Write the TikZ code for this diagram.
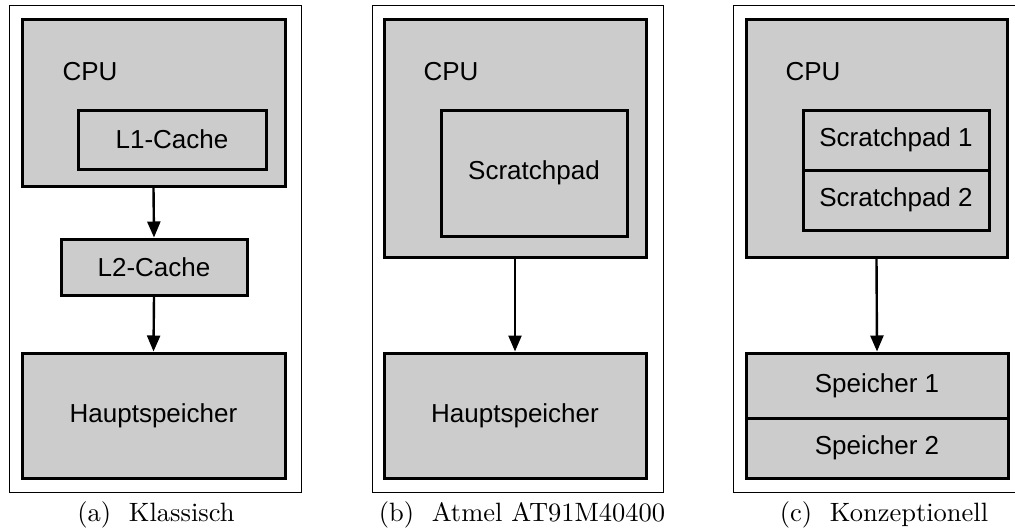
\documentclass[tikz,border=0pt]{standalone}
\usepackage{fontspec}
\setsansfont{Liberation Sans}
\usetikzlibrary{arrows.meta}
\definecolor{boxgray}{RGB}{204,204,204}
\newcommand{\subcaptext}[1]{\scalebox{2.65}{#1}}
\begin{document}
\begin{tikzpicture}[x=1pt,y=-1pt,
  frame/.style={draw, line width=1pt, inner sep=0pt, fill=white},
  box/.style={draw, fill=boxgray, line width=3pt, inner sep=0pt,
    font=\fontsize{26}{30}\sffamily},
  lbl/.style={inner sep=0pt, font=\fontsize{26}{30}\sffamily},
  subcap/.style={inner sep=0pt, font=\fontsize{10}{12}\selectfont},
  link/.style={line width=2.4pt, -{Triangle[width=13pt,length=16pt]}}]
\useasboundingbox (0,0) rectangle (1015,530);

% (a) classic hierarchy
\node[frame, minimum width=292, minimum height=487] (frameA) at (155,248.5) {};
\node[box, minimum width=263, minimum height=167] (cpuA) at (153.5,102.5) {};
\node[lbl] (cpuAlbl) at (90,72) {CPU};
\node[box, minimum width=188, minimum height=59] (l1) at (172,139.5) {L1-Cache};
\node[box, minimum width=186, minimum height=56] (l2) at (154,267) {L2-Cache};
\node[box, minimum width=263, minimum height=125] (hsA) at (153.5,415.5) {Hauptspeicher};
\draw[link] (cpuA.south) -- (l2.north);
\draw[link] (l2.south) -- (hsA.north);
\node[subcap] (capA) at (156,515) {\subcaptext{(a)~ Klassisch}};

% (b) Atmel AT91M40400
\node[frame, minimum width=291, minimum height=487] (frameB) at (517.5,248.5) {};
\node[box, minimum width=262, minimum height=238] (cpuB) at (515,138) {};
\node[lbl] (cpuBlbl) at (451,72) {CPU};
\node[box, minimum width=186, minimum height=126] (spB) at (534,173) {Scratchpad};
\node[box, minimum width=262, minimum height=125] (hsB) at (515,415.5) {Hauptspeicher};
\draw[link] (cpuB.south) -- (hsB.north);
\node[subcap] (capB) at (522,515) {\subcaptext{(b)~ Atmel AT91M40400}};

% (c) conceptual
\node[frame, minimum width=287, minimum height=487] (frameC) at (876.5,248.5) {};
\node[box, minimum width=261, minimum height=238] (cpuC) at (876.5,138) {};
\node[lbl] (cpuClbl) at (813,72) {CPU};
\node[box, minimum width=186, minimum height=60] (sp1) at (896,140) {Scratchpad 1};
\node[box, minimum width=186, minimum height=60] (sp2) at (896,200) {Scratchpad 2};
\node[box, minimum width=262, minimum height=65] (sm1) at (877,385.5) {Speicher 1};
\node[box, minimum width=262, minimum height=60] (sm2) at (877,448) {Speicher 2};
\draw[link] (cpuC.south) -- (sm1.north);
\node[subcap] (capC) at (884,515) {\subcaptext{(c)~ Konzeptionell}};
\end{tikzpicture}
\end{document}
